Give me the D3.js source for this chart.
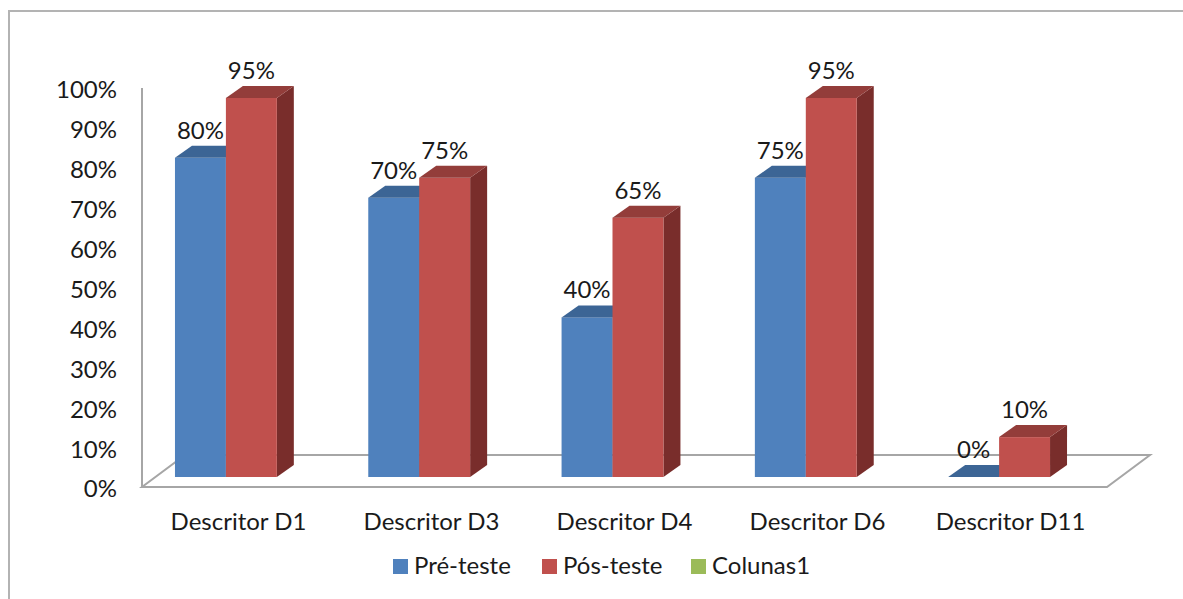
<!DOCTYPE html>
<html><head><meta charset="utf-8">
<script src="https://cdn.jsdelivr.net/npm/d3@7"></script>
<style>
html,body{margin:0;padding:0;background:#fff;}
svg{display:block;}
text{font-family:Lato,"Open Sans",sans-serif;fill:#1a1a1a;}
</style></head>
<body>
<svg id="chart" width="1183" height="599"></svg>
<script>
const categories = ["Descritor D1","Descritor D3","Descritor D4","Descritor D6","Descritor D11"];
const preTeste  = [0.80, 0.70, 0.40, 0.75, 0.00];
const posTeste  = [0.95, 0.75, 0.65, 0.95, 0.10];
const seriesNames = ["Pré-teste","Pós-teste","Colunas1"];
const tickValues = [0,0.1,0.2,0.3,0.4,0.5,0.6,0.7,0.8,0.9,1.0];

const colors = {
  "Pré-teste": {front:"#4f81bd", top:"#3c6595", side:"#375d88"},
  "Pós-teste": {front:"#c0504d", top:"#933d3a", side:"#792d2b"},
  "Colunas1":  {front:"#9bbb59", top:"#7a9545", side:"#6b833c"}
};

const svg = d3.select("#chart");

// outer frame
svg.append("rect").attr("x",9).attr("y",11).attr("width",1300).attr("height",700)
  .attr("fill","none").attr("stroke","#b3b3b3").attr("stroke-width",2);

// scales
const yAxis = d3.scaleLinear().domain([0,1]).range([487,88]);
const yBar  = d3.scaleLinear().domain([0,1]).range([477,78]);
const xFloor = d3.scaleBand().domain(categories).range([142,1107]);
const xGroup = d3.scaleBand().domain(categories).range([129.25,1095.75]).paddingInner(0.473).paddingOuter(0.2365);
const xSub = d3.scaleBand().domain(["Pré-teste","Pós-teste"]).range([0,xGroup.bandwidth()]);

const floorDx = 43, floorDy = -32;   // floor depth
const barDx = 17, barDy = -12;       // bar depth

// floor
const fx0 = xFloor.range()[0], fx1 = xFloor.range()[1], fy = yAxis(0);
svg.append("path")
  .attr("d", `M${fx0},${fy} L${fx1},${fy} L${fx1+floorDx},${fy+floorDy} L${fx0+floorDx},${fy+floorDy} Z`)
  .attr("fill","none").attr("stroke","#a6a6a6").attr("stroke-width",2).attr("stroke-linejoin","miter");
// vertical axis line
svg.append("line").attr("x1",fx0).attr("x2",fx0).attr("y1",yAxis(1)).attr("y2",yAxis(0))
  .attr("stroke","#a6a6a6").attr("stroke-width",2);

// y tick labels
svg.append("g").selectAll("text").data(tickValues).join("text")
  .attr("x",117).attr("y",d=>yAxis(d)+2).attr("dy","0.35em")
  .attr("text-anchor","end").style("font-size","24px")
  .text(d=>d3.format(".0%")(d));

// bars
const rows = categories.map((c,i)=>({cat:c, vals:[{s:"Pré-teste",v:preTeste[i]},{s:"Pós-teste",v:posTeste[i]}]}));
const g = svg.append("g");
rows.forEach(r=>{
  r.vals.forEach(d=>{
    const x0 = xGroup(r.cat)+xSub(d.s), x1 = x0+xSub.bandwidth();
    const yt = yBar(d.v), yb = yBar(0);
    const c = colors[d.s];
    // side face
    g.append("path").attr("d",`M${x1},${yb} L${x1+barDx},${yb+barDy} L${x1+barDx},${yt+barDy} L${x1},${yt} Z`).attr("fill",c.side);
    // front
    g.append("rect").attr("x",x0).attr("y",yt).attr("width",x1-x0).attr("height",yb-yt).attr("fill",c.front);
    // top
    g.append("path").attr("d",`M${x0},${yt} L${x0+barDx},${yt+barDy} L${x1+barDx},${yt+barDy} L${x1},${yt} Z`).attr("fill",c.top);
    // label
    svg.append("text").attr("x",(x0+x1)/2).attr("y",yt+barDy-7)
      .attr("text-anchor","middle").style("font-size","24px")
      .text(d3.format(".0%")(d.v));
  });
});

// category labels
svg.append("g").selectAll("text").data(categories).join("text")
  .attr("x",d=>xFloor(d)+xFloor.bandwidth()/2).attr("y",530)
  .attr("text-anchor","middle").style("font-size","24px").text(d=>d);

// legend
const legendX = [393, 542, 691];
const lg = svg.append("g");
seriesNames.forEach((s,i)=>{
  lg.append("rect").attr("x",legendX[i]).attr("y",559).attr("width",15).attr("height",15).attr("fill",colors[s].front);
  lg.append("text").attr("x",legendX[i]+21).attr("y",574).style("font-size","24px").text(s);
});
</script>
</body></html>
